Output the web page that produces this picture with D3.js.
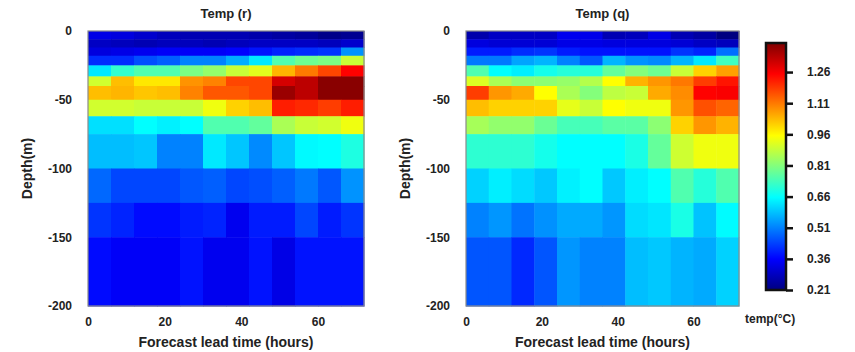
<!DOCTYPE html>
<html>
<head>
<meta charset="utf-8">
<script src="https://cdn.jsdelivr.net/npm/d3@7"></script>
<style>
  body { margin: 0; background: #fff; }
  text { font-family: "Liberation Sans", Arial, sans-serif; font-weight: bold; fill: #222; }
</style>
</head>
<body>
<svg id="chart" width="855" height="352"></svg>
<script>
// lead time column edges (hours) and depth row edges (m)
const leadEdges = [0, 6, 12, 18, 24, 30, 36, 42, 48, 54, 60, 66, 72];
const depthEdges = [0, -6, -12, -18, -25, -33, -40, -50, -62, -75, -100, -125, -150, -200];
const xTicks = [0, 20, 40, 60];
const yTicks = [0, -50, -100, -150, -200];
const cbTicks = [0.21, 0.36, 0.51, 0.66, 0.81, 0.96, 1.11, 1.26];

// temp (r), rows from surface down, 12 lead-time columns each
const tempR = [
  [0.33, 0.32, 0.30, 0.28, 0.27, 0.27, 0.27, 0.26, 0.25, 0.24, 0.22, 0.23],
  [0.29, 0.28, 0.27, 0.28, 0.28, 0.27, 0.28, 0.29, 0.29, 0.29, 0.28, 0.30],
  [0.32, 0.33, 0.34, 0.35, 0.35, 0.35, 0.36, 0.38, 0.40, 0.41, 0.42, 0.53],
  [0.41, 0.41, 0.45, 0.47, 0.51, 0.51, 0.56, 0.63, 0.75, 0.785, 0.80, 0.89],
  [0.63, 0.715, 0.75, 0.75, 0.80, 0.83, 0.89, 0.92, 1.04, 1.11, 1.17, 1.25],
  [0.90, 1.03, 0.98, 0.98, 1.08, 1.10, 1.17, 1.17, 1.30, 1.33, 1.39, 1.39],
  [1.03, 1.04, 1.02, 1.03, 1.10, 1.15, 1.15, 1.17, 1.37, 1.33, 1.39, 1.39],
  [0.90, 0.90, 0.89, 0.89, 0.89, 0.936, 1.006, 1.03, 1.217, 1.205, 1.18, 1.217],
  [0.62, 0.62, 0.656, 0.64, 0.656, 0.75, 0.75, 0.77, 0.855, 0.89, 0.90, 0.936],
  [0.58, 0.58, 0.59, 0.51, 0.51, 0.63, 0.59, 0.52, 0.59, 0.65, 0.656, 0.69],
  [0.48, 0.44, 0.44, 0.44, 0.46, 0.47, 0.44, 0.45, 0.47, 0.50, 0.46, 0.53],
  [0.42, 0.40, 0.37, 0.37, 0.39, 0.40, 0.34, 0.39, 0.39, 0.44, 0.39, 0.42],
  [0.37, 0.35, 0.35, 0.35, 0.38, 0.34, 0.34, 0.38, 0.33, 0.38, 0.38, 0.38]
];

// temp (q)
const tempQ = [
  [0.26, 0.29, 0.29, 0.29, 0.34, 0.335, 0.27, 0.28, 0.33, 0.27, 0.25, 0.21],
  [0.32, 0.31, 0.31, 0.31, 0.33, 0.33, 0.32, 0.32, 0.32, 0.31, 0.29, 0.28],
  [0.39, 0.39, 0.41, 0.42, 0.39, 0.38, 0.38, 0.38, 0.38, 0.42, 0.40, 0.49],
  [0.50, 0.50, 0.55, 0.57, 0.51, 0.46, 0.57, 0.53, 0.52, 0.57, 0.63, 0.73],
  [0.75, 0.656, 0.638, 0.68, 0.70, 0.70, 0.773, 0.81, 0.785, 0.89, 1.006, 1.064],
  [0.913, 0.855, 0.82, 0.82, 0.831, 0.866, 0.954, 1.042, 1.076, 1.111, 1.181, 1.228],
  [1.18, 1.076, 1.053, 0.954, 0.855, 0.81, 0.877, 0.89, 1.053, 1.088, 1.25, 1.257],
  [1.03, 1.006, 1.006, 1.006, 0.924, 0.89, 0.954, 0.936, 0.936, 1.076, 1.158, 1.135],
  [0.85, 0.826, 0.826, 0.78, 0.738, 0.738, 0.761, 0.761, 0.82, 1.006, 1.076, 1.042],
  [0.709, 0.709, 0.709, 0.68, 0.656, 0.656, 0.656, 0.686, 0.773, 0.896, 0.936, 0.936],
  [0.604, 0.638, 0.616, 0.592, 0.64, 0.656, 0.592, 0.638, 0.656, 0.749, 0.70, 0.749],
  [0.51, 0.534, 0.493, 0.528, 0.557, 0.557, 0.534, 0.616, 0.627, 0.685, 0.586, 0.653],
  [0.458, 0.458, 0.405, 0.458, 0.534, 0.51, 0.51, 0.58, 0.592, 0.569, 0.557, 0.604]
];

const vMin = 0.21, vMax = 1.40;
const jetStops = [0, 0.125, 0.375, 0.625, 0.875, 1];
const jetColors = ["#000080", "#0000ff", "#00ffff", "#ffff00", "#ff0000", "#800000"];

const color = d3.scaleLinear()
  .domain(jetStops.map(t => vMin + t * (vMax - vMin)))
  .range(jetColors)
  .interpolate(d3.interpolateRgb)
  .clamp(true);

const svg = d3.select("#chart");

function drawPanel(data, title, left, right, top, bottom) {
  const x = d3.scaleLinear().domain([0, 72]).range([left, right]);
  const y = d3.scaleLinear().domain([0, -200]).range([top, bottom]);
  const g = svg.append("g");

  data.forEach((row, ri) => {
    row.forEach((v, ci) => {
      g.append("rect")
        .attr("x", x(leadEdges[ci]))
        .attr("y", y(depthEdges[ri]))
        .attr("width", x(leadEdges[ci + 1]) - x(leadEdges[ci]) + 0.5)
        .attr("height", y(depthEdges[ri + 1]) - y(depthEdges[ri]) + 0.5)
        .attr("fill", color(v));
    });
  });

  g.append("rect")
    .attr("x", left).attr("y", top)
    .attr("width", right - left).attr("height", bottom - top)
    .attr("fill", "none").attr("stroke", "#8a8a8a").attr("stroke-width", 1.2);

  const yAxis = g.append("g")
    .attr("transform", `translate(${left},0)`)
    .call(d3.axisLeft(y).tickValues(yTicks).tickSize(0).tickPadding(16).tickFormat(d => String(d)));
  yAxis.select(".domain").remove();
  yAxis.selectAll("text").attr("font-size", "12px").attr("font-family", null).style("fill", "#222");

  const xAxis = g.append("g")
    .attr("transform", `translate(0,${bottom})`)
    .call(d3.axisBottom(x).tickValues(xTicks).tickSize(0).tickPadding(11));
  xAxis.select(".domain").remove();
  xAxis.selectAll("text").attr("font-size", "12px").attr("font-family", null).style("fill", "#222");

  g.append("text")
    .attr("x", (left + right) / 2).attr("y", 18)
    .attr("text-anchor", "middle").attr("font-size", "13px")
    .text(title);

  g.append("text")
    .attr("x", (left + right) / 2).attr("y", 347)
    .attr("text-anchor", "middle").attr("font-size", "14px")
    .text("Forecast lead time (hours)");

  g.append("text")
    .attr("transform", `translate(${left - 56},${(top + bottom) / 2}) rotate(-90)`)
    .attr("text-anchor", "middle").attr("font-size", "14px")
    .text("Depth(m)");
}

drawPanel(tempR, "Temp (r)", 88, 364, 31, 306);
drawPanel(tempQ, "Temp (q)", 466, 739, 31, 306);

// colorbar
const cbLeft = 766, cbWidth = 20, cbTop = 43, cbBottom = 290;
const cbScale = d3.scaleLinear().domain([vMin, vMax]).range([cbBottom, cbTop]);

const grad = svg.append("defs").append("linearGradient")
  .attr("id", "jet").attr("x1", 0).attr("y1", 1).attr("x2", 0).attr("y2", 0);
jetStops.forEach((t, i) => {
  grad.append("stop").attr("offset", t).attr("stop-color", jetColors[i]);
});

svg.append("rect")
  .attr("x", cbLeft).attr("y", cbTop)
  .attr("width", cbWidth).attr("height", cbBottom - cbTop)
  .attr("fill", "url(#jet)")
  .attr("stroke", "#111").attr("stroke-width", 2.5);

const cbAxis = svg.append("g")
  .attr("transform", `translate(${cbLeft + cbWidth},0)`)
  .call(d3.axisRight(cbScale).tickValues(cbTicks).tickSize(7).tickPadding(14).tickFormat(d3.format(".2f")));
cbAxis.select(".domain").remove();
cbAxis.selectAll("line").attr("stroke", "#111").attr("stroke-width", 2.5);
cbAxis.selectAll("text").attr("font-size", "12px").attr("font-family", null).style("fill", "#222");

svg.append("text")
  .attr("x", 745).attr("y", 323)
  .attr("font-size", "12px")
  .text("temp(°C)");
</script>
</body>
</html>
